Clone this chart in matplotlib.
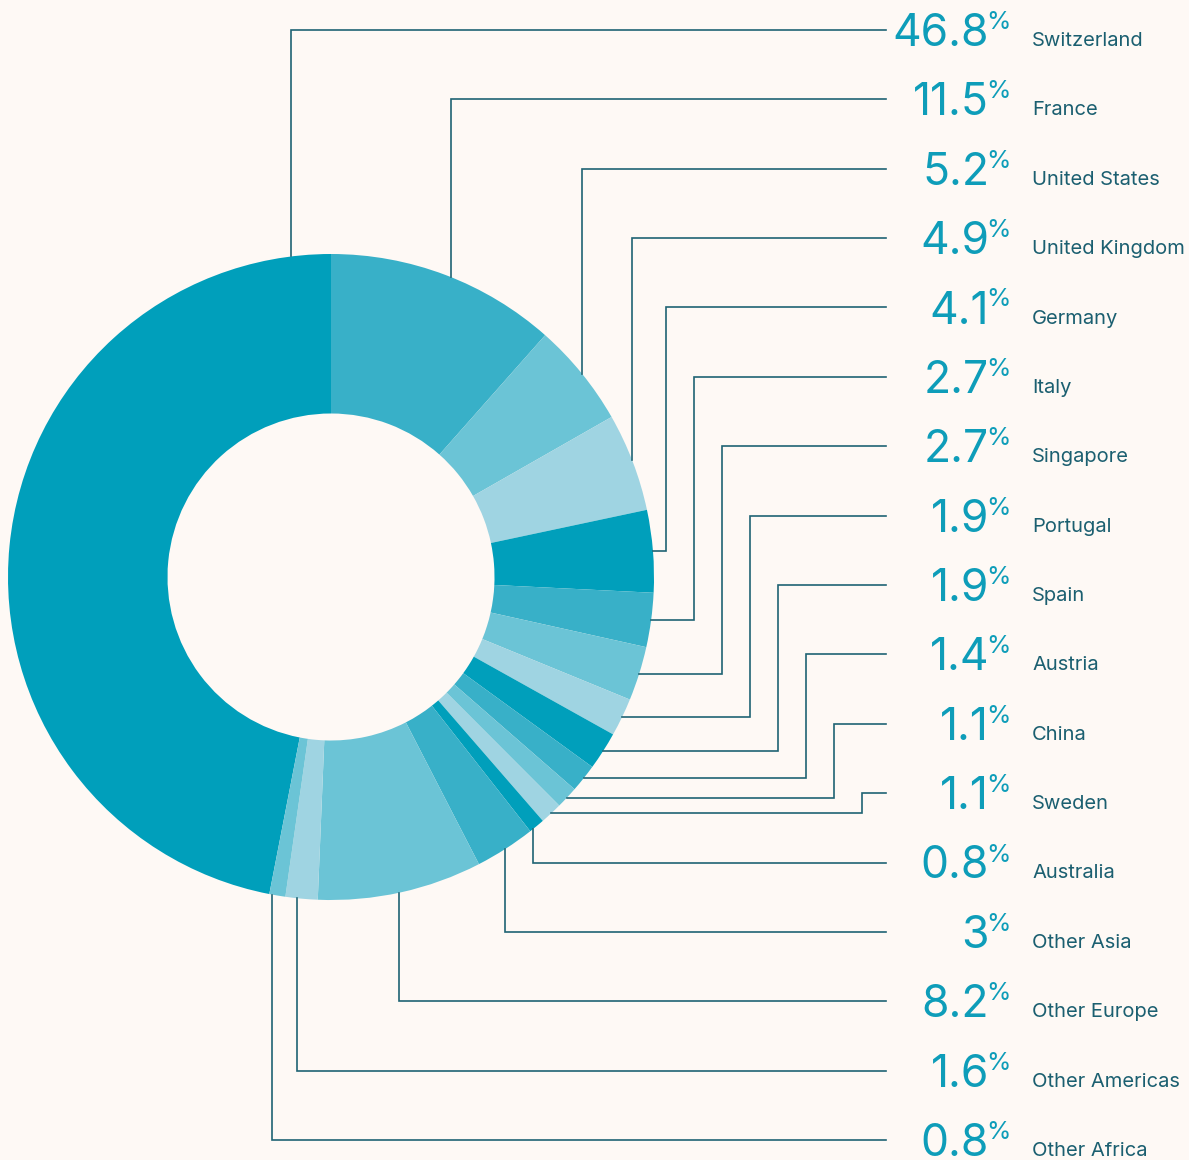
import numpy as np
import matplotlib.pyplot as plt

countries = ["Switzerland", "France", "United States", "United Kingdom", "Germany",
             "Italy", "Singapore", "Portugal", "Spain", "Austria", "China", "Sweden",
             "Australia", "Other Asia", "Other Europe", "Other Americas", "Other Africa"]
shares = [46.8, 11.5, 5.2, 4.9, 4.1, 2.7, 2.7, 1.9, 1.9, 1.4, 1.1, 1.1, 0.8, 3, 8.2, 1.6, 0.8]
share_labels = ["46.8", "11.5", "5.2", "4.9", "4.1", "2.7", "2.7", "1.9", "1.9", "1.4",
                "1.1", "1.1", "0.8", "3", "8.2", "1.6", "0.8"]

c1, c2, c3, c4 = "#009fbb", "#38b0c8", "#6bc4d6", "#9fd4e2"
colors = [c1, c2, c3, c4, c1, c2, c3, c4, c1, c2, c3, c4, c1, c2, c3, c4, c3]

# leader layout (pixels): elbow x and how the leader leaves the ring
elbow_px = [291, 451, 582, 632, 666, 694, 722, 750, 778, 806, 834, 862, 533, 505, 399, 297, 272]
mode = ["v"] * 4 + ["h"] * 8 + ["v"] * 5

W, H = 1189, 1160
cx, cy, R = 331, 577, 323
r_in = 163.5

bg = "#fef9f5"
line_col = "#1f6474"
num_col = "#0e9db9"
name_col = "#1b5f70"


def px(x):
    return (x - cx) / R


def py(y):
    return (cy - y) / R


fig = plt.figure(figsize=(W / 100, H / 100), dpi=100, facecolor=bg)
ax = fig.add_axes([0, 0, 1, 1])
ax.set_facecolor(bg)

start = 90 + shares[0] / sum(shares) * 360
wedges, _ = ax.pie(shares, colors=colors, startangle=start, counterclock=False,
                   radius=1, wedgeprops=dict(width=1 - r_in / R, linewidth=0))

ax.set_aspect("auto")
ax.set_xlim(px(0), px(W))
ax.set_ylim(py(H), py(0))
ax.axis("off")

row0, step = 30, (1140 - 30) / 16
x_end = px(886)
for i, w in enumerate(wedges):
    row = row0 + i * step
    yr = py(row)
    ex = px(elbow_px[i])
    mid = np.deg2rad((w.theta1 + w.theta2) / 2)
    if mode[i] == "v":
        sgn = 1 if np.sin(mid) > 0 else -1
        ay = sgn * np.sqrt(1 - ex ** 2)
        xs = [ex, ex, x_end]
        ys = [ay, yr, yr]
    else:
        ax_, ay = np.cos(mid), np.sin(mid)
        xs = [ax_, ex, ex, x_end]
        ys = [ay, ay, yr, yr]
    ax.plot(xs, ys, color=line_col, lw=1.2, solid_joinstyle="miter", zorder=1)

    ax.text(px(989), py(row + 16), share_labels[i], ha="right", va="baseline",
            fontsize=32, color=num_col, family="Inter")
    ax.text(px(986), py(row - 1), "%", ha="left", va="baseline",
            fontsize=18, color=num_col, family="Inter")
    ax.text(px(1032), py(row + 16), countries[i], ha="left", va="baseline",
            fontsize=14.5, color=name_col, family="Inter")

fig.savefig("out.png", dpi=100, facecolor=bg)
